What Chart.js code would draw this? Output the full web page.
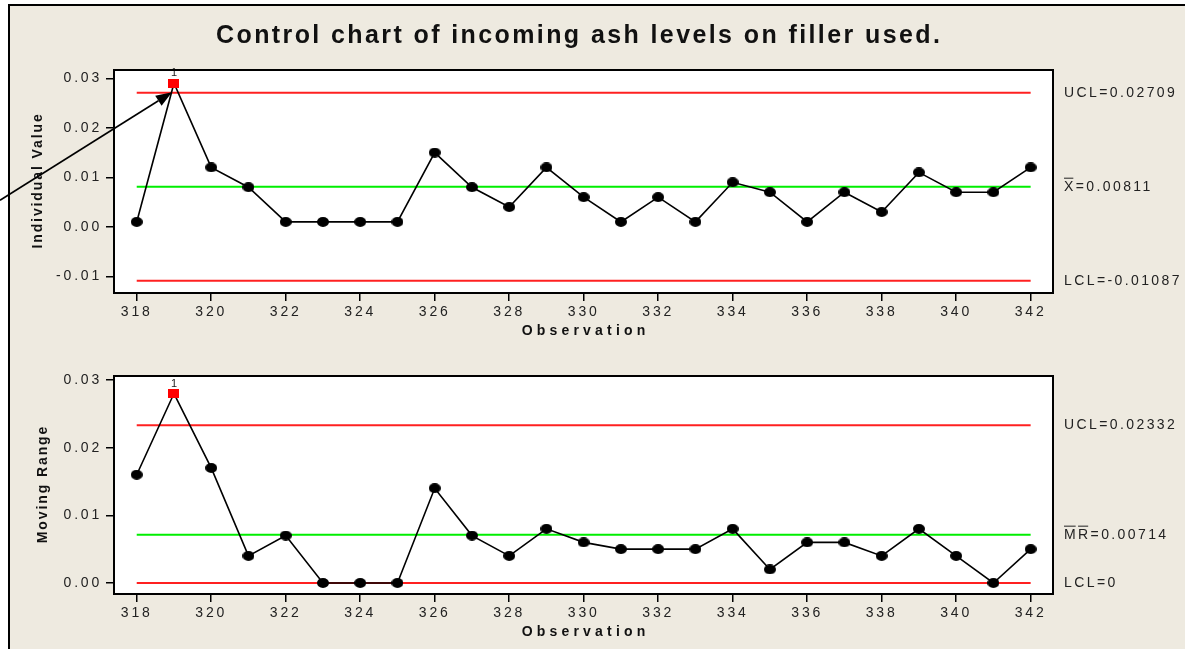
<!DOCTYPE html>
<html>
<head>
<meta charset="utf-8">
<script src="https://cdn.jsdelivr.net/npm/chart.js@4/dist/chart.umd.min.js"></script>
<style>
html,body{margin:0;padding:0;background:#fff;}
#wrap{position:relative;width:1185px;height:649px;overflow:hidden;background:#fff;}
#frame{position:absolute;left:8px;top:4px;width:1200px;height:700px;border-left:2px solid #000;border-top:2px solid #000;background:#EEEAE0;}
canvas{position:absolute;left:0;top:0;}
</style>
</head>
<body>
<div id="wrap">
  <div id="frame"></div>
  <canvas id="c1" width="1185" height="649"></canvas>
  <canvas id="c2" width="1185" height="649"></canvas>
</div>
<script>
// ---- data ----
const observations = [318,319,320,321,322,323,324,325,326,327,328,329,330,331,332,333,334,335,336,337,338,339,340,341,342];
const individualValues = [0.001,0.029,0.012,0.008,0.001,0.001,0.001,0.001,0.015,0.008,0.004,0.012,0.006,0.001,0.006,0.001,0.009,0.007,0.001,0.007,0.003,0.011,0.007,0.007,0.012];
const movingRanges = [0.016,0.028,0.017,0.004,0.007,0,0,0,0.014,0.007,0.004,0.008,0.006,0.005,0.005,0.005,0.008,0.002,0.006,0.006,0.004,0.008,0.004,0,0.005];
const xTickValues = [318,320,322,324,326,328,330,332,334,336,338,340,342];
const individualTicks = [-0.01,0,0.01,0.02,0.03];
const rangeTicks = [0,0.01,0.02,0.03];
const individualUCL = 0.02709, individualMean = 0.00811, individualLCL = -0.01087;
const rangeUCL = 0.02332, rangeMean = 0.00714, rangeLCL = 0;
const titleText = 'Control chart of incoming ash levels on filler used.';
const xAxisTitle = 'Observation';

const FONT = '"Liberation Sans", Arial, sans-serif';

function ellipseImg(w, h, color) {
  const c = document.createElement('canvas'); c.width = w; c.height = h;
  const g = c.getContext('2d'); g.fillStyle = color; g.beginPath();
  g.ellipse(w/2, h/2, w/2, h/2, 0, 0, Math.PI*2); g.fill(); return c;
}
function rectImg(w, h, color) {
  const c = document.createElement('canvas'); c.width = w; c.height = h;
  const g = c.getContext('2d'); g.fillStyle = color; g.fillRect(0, 0, w, h); return c;
}
const dotImg = ellipseImg(12, 10, '#000');
const redImg = rectImg(11, 9, '#ff0000');

function makeChart(canvasId, cfg) {
  const values = cfg.values;
  const ooc = v => v > cfg.ucl || v < cfg.lcl;
  const limitLine = (val, color) => ({
    data: [{x: observations[0], y: val}, {x: observations[observations.length-1], y: val}],
    borderColor: color, borderWidth: 2, pointRadius: 0, fill: false
  });
  const decor = {
    id: 'decor' + canvasId,
    beforeDraw(chart) {
      const {ctx, chartArea: a} = chart;
      ctx.save(); ctx.fillStyle = '#fff';
      ctx.fillRect(a.left, a.top, a.right - a.left, a.bottom - a.top);
      ctx.restore();
      ctx.letterSpacing = '2.8px';
    },
    afterDraw(chart) {
      const {ctx, chartArea: a, scales} = chart;
      const xs = scales.x, ys = scales.y;
      ctx.save();
      ctx.letterSpacing = '0px';
      // "1" labels above out-of-control points
      ctx.fillStyle = '#222'; ctx.font = '11px ' + FONT; ctx.textAlign = 'center'; ctx.textBaseline = 'middle';
      values.forEach((v, i) => {
        if (ooc(v)) ctx.fillText('1', xs.getPixelForValue(observations[i]), ys.getPixelForValue(v) - 10);
      });
      // frame
      ctx.strokeStyle = '#000'; ctx.lineWidth = 2;
      ctx.strokeRect(a.left, a.top, a.right - a.left, a.bottom - a.top);
      // y axis title
      ctx.save();
      ctx.translate(cfg.yTitleX, (a.top + a.bottom) / 2);
      ctx.rotate(-Math.PI/2);
      ctx.font = 'bold 14px ' + FONT; ctx.letterSpacing = '1.9px';
      ctx.fillStyle = '#111'; ctx.textAlign = 'center'; ctx.textBaseline = 'middle';
      ctx.fillText(cfg.yTitle, 1, 0);
      ctx.restore();
      // x axis title
      ctx.font = 'bold 14px ' + FONT; ctx.letterSpacing = '4.2px';
      ctx.fillStyle = '#111'; ctx.textAlign = 'center'; ctx.textBaseline = 'middle';
      ctx.fillText(xAxisTitle, (a.left + a.right) / 2 + 2.1, a.bottom + 38);
      // right-hand limit labels
      const ls = 2.4;
      ctx.font = '14px ' + FONT; ctx.letterSpacing = ls + 'px';
      ctx.fillStyle = '#222'; ctx.textAlign = 'left'; ctx.textBaseline = 'middle';
      const lx = a.right + 11;
      ctx.fillText('UCL=' + cfg.uclText, lx, ys.getPixelForValue(cfg.ucl));
      const my = ys.getPixelForValue(cfg.mean);
      ctx.fillText(cfg.meanSymbol + '=' + cfg.meanText, lx, my);
      // overlines
      ctx.lineWidth = 1; ctx.strokeStyle = '#222';
      let ox = lx;
      for (const ch of cfg.meanSymbol) {
        const w = ctx.measureText(ch).width - ls;
        ctx.beginPath(); ctx.moveTo(ox, my - 8.5); ctx.lineTo(ox + w, my - 8.5); ctx.stroke();
        ox += w + ls;
      }
      ctx.fillText('LCL=' + cfg.lclText, lx, ys.getPixelForValue(cfg.lcl));
      // chart title & arrow (top chart only)
      if (cfg.drawTitle) {
        ctx.font = 'bold 25px ' + FONT; ctx.letterSpacing = '2.4px';
        ctx.fillStyle = '#111'; ctx.textAlign = 'left'; ctx.textBaseline = 'alphabetic';
        ctx.fillText(titleText, 216, 43);
        ctx.letterSpacing = '0px';
        const idx = values.findIndex(ooc);
        const px = xs.getPixelForValue(observations[idx]), py = ys.getPixelForValue(values[idx]);
        const tx = px - 2, ty = py + 9, sx = 0, sy = ty + 108;
        const ang = Math.atan2(ty - sy, tx - sx);
        const hl = 16, hw = 6;
        const bx = tx - hl * Math.cos(ang), by = ty - hl * Math.sin(ang);
        ctx.strokeStyle = '#000'; ctx.lineWidth = 1.6;
        ctx.beginPath(); ctx.moveTo(sx, sy); ctx.lineTo(bx, by); ctx.stroke();
        ctx.fillStyle = '#000'; ctx.beginPath();
        ctx.moveTo(tx, ty);
        ctx.lineTo(bx + hw * Math.sin(ang), by - hw * Math.cos(ang));
        ctx.lineTo(bx - hw * Math.sin(ang), by + hw * Math.cos(ang));
        ctx.closePath(); ctx.fill();
      }
      ctx.restore();
    }
  };
  return new Chart(document.getElementById(canvasId), {
    type: 'line',
    data: {
      datasets: [
        {
          data: values.map((v, i) => ({x: observations[i], y: v})),
          borderColor: '#000', borderWidth: 1.6, fill: false, tension: 0,
          pointRadius: 6,
          pointStyle: c => ooc(values[c.dataIndex]) ? redImg : dotImg
        },
        limitLine(cfg.mean, '#00ee00'),
        limitLine(cfg.ucl, '#ff2020'),
        limitLine(cfg.lcl, '#ff2020')
      ]
    },
    options: {
      responsive: false, animation: false, events: [],
      layout: {padding: {left: 0, right: 132, top: cfg.plotTop, bottom: 649 - cfg.plotBottom - 50}},
      plugins: {legend: {display: false}, tooltip: {enabled: false}, title: {display: false}},
      scales: {
        x: {
          type: 'linear', min: 317.39, max: 342.6,
          afterBuildTicks: s => { s.ticks = xTickValues.map(v => ({value: v})); },
          afterFit: s => { s.height = 50; },
          grid: {drawOnChartArea: false, drawTicks: true, tickLength: 8, color: '#000', lineWidth: 1.5},
          border: {display: false},
          ticks: {autoSkip: false, maxRotation: 0, padding: 3, color: '#222', font: {family: FONT, size: 14},
                  callback: v => String(v)}
        },
        y: {
          type: 'linear', min: cfg.min, max: cfg.max,
          afterBuildTicks: s => { s.ticks = cfg.ticks.map(v => ({value: v})); },
          afterFit: s => { s.width = 114; },
          grid: {drawOnChartArea: false, drawTicks: true, tickLength: 8, color: '#000', lineWidth: 1.5},
          border: {display: false},
          ticks: {padding: 4, color: '#222', font: {family: FONT, size: 14},
                  callback: v => Number(v).toFixed(2)}
        }
      }
    },
    plugins: [decor]
  });
}

makeChart('c1', {
  values: individualValues, ticks: individualTicks, min: -0.01335, max: 0.03167,
  ucl: individualUCL, mean: individualMean, lcl: individualLCL,
  uclText: '0.02709', meanText: '0.00811', lclText: '-0.01087', meanSymbol: 'X',
  yTitle: 'Individual Value', yTitleX: 38, plotTop: 70, plotBottom: 293, drawTitle: true
});
makeChart('c2', {
  values: movingRanges, ticks: rangeTicks, min: -0.00163, max: 0.03059,
  ucl: rangeUCL, mean: rangeMean, lcl: rangeLCL,
  uclText: '0.02332', meanText: '0.00714', lclText: '0', meanSymbol: 'MR',
  yTitle: 'Moving Range', yTitleX: 43, plotTop: 376, plotBottom: 594, drawTitle: false
});
</script>
</body>
</html>
